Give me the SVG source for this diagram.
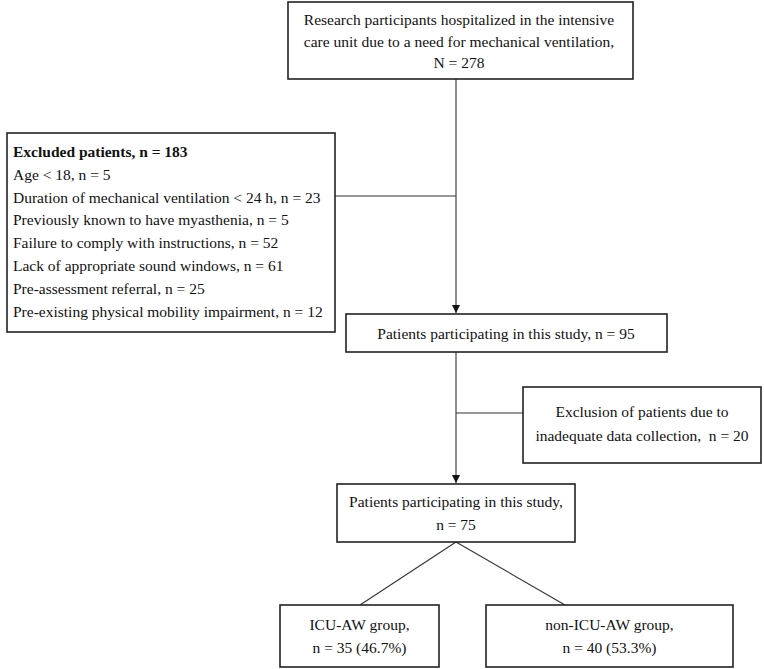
<svg xmlns="http://www.w3.org/2000/svg" width="764" height="669" viewBox="0 0 764 669">
<defs>
<style>
.box{fill:#fff;stroke:#222;stroke-width:1.6}
.t{font-family:"Liberation Serif","Times New Roman",serif;font-size:15.5px;fill:#111}
.c{text-anchor:middle}
.b{font-weight:bold}
.ln{stroke:#333;stroke-width:1.1;fill:none}
</style>
<marker id="ah" viewBox="0 0 10 10" refX="10" refY="5" markerWidth="8" markerHeight="8" markerUnits="userSpaceOnUse" orient="auto">
<path d="M0,0 L10,5 L0,10 z" fill="#111"/>
</marker>
</defs>
<rect width="764" height="669" fill="#fff"/>
<g id="connectors">
<line class="ln" x1="456" y1="79" x2="456" y2="313" marker-end="url(#ah)"/>
<line class="ln" x1="335" y1="196" x2="456" y2="196"/>
<line class="ln" x1="456" y1="352" x2="456" y2="483" marker-end="url(#ah)"/>
<line class="ln" x1="456" y1="413" x2="523" y2="413"/>
<line class="ln" x1="456" y1="542" x2="360" y2="605"/>
<line class="ln" x1="456" y1="542" x2="565" y2="605"/>
</g>
<g id="n_start">
<rect class="box" x="288" y="2" width="345" height="77"/>
<text class="t c" x="459" y="25">Research participants hospitalized in the intensive</text>
<text class="t c" x="459" y="47">care unit due to a need for mechanical ventilation,</text>
<text class="t c" x="459" y="68">N = 278</text>
</g>
<g id="n_excluded">
<rect class="box" x="7" y="133" width="328" height="199"/>
<text class="t b" x="13" y="157">Excluded patients, n = 183</text>
<text class="t" x="13" y="180">Age &lt; 18, n = 5</text>
<text class="t" x="13" y="203">Duration of mechanical ventilation &lt; 24 h, n = 23</text>
<text class="t" x="13" y="225">Previously known to have myasthenia, n = 5</text>
<text class="t" x="13" y="248">Failure to comply with instructions, n = 52</text>
<text class="t" x="13" y="271">Lack of appropriate sound windows, n = 61</text>
<text class="t" x="13" y="294">Pre-assessment referral, n = 25</text>
<text class="t" x="13" y="317">Pre-existing physical mobility impairment, n = 12</text>
</g>
<g id="n_95">
<rect class="box" x="346" y="314" width="321" height="38"/>
<text class="t c" x="506" y="339">Patients participating in this study, n = 95</text>
</g>
<g id="n_exclusion20">
<rect class="box" x="523" y="387" width="238" height="76"/>
<text class="t c" x="642" y="417">Exclusion of patients due to</text>
<text class="t c" x="642" y="441" xml:space="preserve">inadequate data collection,  n = 20</text>
</g>
<g id="n_75">
<rect class="box" x="337" y="484" width="238" height="58"/>
<text class="t c" x="456" y="507">Patients participating in this study,</text>
<text class="t c" x="456" y="530">n = 75</text>
</g>
<g id="n_icuaw">
<rect class="box" x="280" y="605" width="159" height="62"/>
<text class="t c" x="359.5" y="630">ICU-AW group,</text>
<text class="t c" x="359.5" y="653">n = 35 (46.7%)</text>
</g>
<g id="n_nonicuaw">
<rect class="box" x="486" y="605" width="247" height="62"/>
<text class="t c" x="609.5" y="630">non-ICU-AW group,</text>
<text class="t c" x="609.5" y="653">n = 40 (53.3%)</text>
</g>
</svg>
